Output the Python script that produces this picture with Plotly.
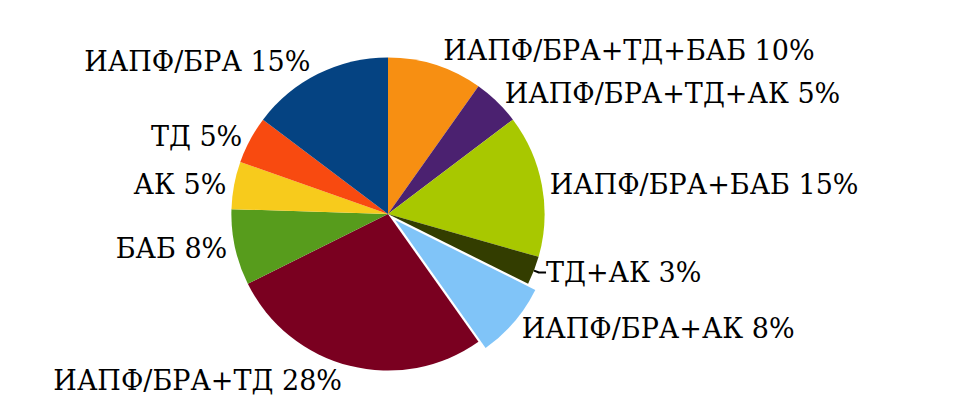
import plotly.graph_objects as go

labels = ["ИАПФ/БРА+ТД+БАБ", "ИАПФ/БРА+ТД+АК", "ИАПФ/БРА+БАБ", "ТД+АК",
          "ИАПФ/БРА+АК", "ИАПФ/БРА+ТД", "БАБ", "АК", "ТД", "ИАПФ/БРА"]
values = [10, 5, 15, 3, 8, 28, 8, 5, 5, 15]
colors = ["#F78F12", "#4B2170", "#A8C800", "#333D00", "#80C4F8",
          "#7A0020", "#579C1C", "#F7CB1C", "#F84A10", "#054382"]
pulls = [0, 0, 0, 0, 0.06, 0, 0, 0, 0, 0]

serif = "DejaVu Serif"
tf = dict(family=serif, size=27, color="black")

fig = go.Figure(go.Pie(
    labels=labels,
    values=values,
    sort=False,
    direction="clockwise",
    rotation=0,
    marker=dict(colors=colors, line=dict(width=0)),
    pull=pulls,
    texttemplate="%{label} %{value}%",
    textposition="outside",
    textfont=tf,
    outsidetextfont=tf,
    domain=dict(x=[0.2236, 0.5705], y=[0.08, 0.92]),
    showlegend=False,
    hoverinfo="label+value",
))

fig.update_layout(
    width=957, height=415,
    margin=dict(l=0, r=0, t=0, b=0),
    paper_bgcolor="white",
    plot_bgcolor="white",
    font=dict(family=serif, size=27, color="black"),
)

fig.write_html("out.html")
